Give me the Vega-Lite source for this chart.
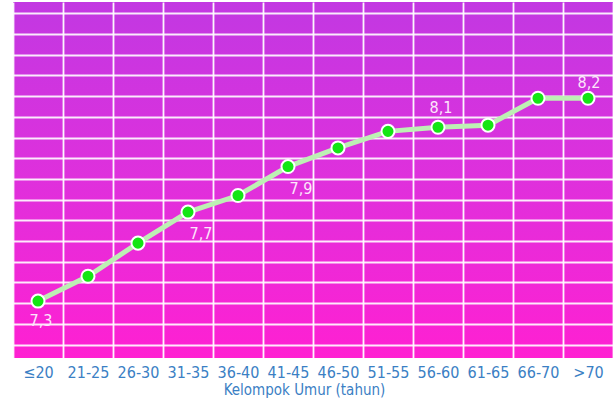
{
  "$schema": "https://vega.github.io/schema/vega-lite/v6.json",
  "width": 600,
  "height": 356,
  "autosize": {"type": "none"},
  "padding": {"left": 13, "top": 2, "right": 2, "bottom": 46},
  "background": "white",
  "config": {
    "view": {
      "stroke": null,
      "fill": {"gradient": "linear", "x1": 0, "y1": 0, "x2": 0, "y2": 1, "stops": [{"offset": 0, "color": "#c238e2"}, {"offset": 0.5, "color": "#df30dc"}, {"offset": 1, "color": "#ff20d2"}]}
    }
  },
  "data": {
    "values": [
      {"umur": "≤20", "nilai": 7.26, "label": "7,3"},
      {"umur": "21-25", "nilai": 7.38, "label": ""},
      {"umur": "26-30", "nilai": 7.54, "label": ""},
      {"umur": "31-35", "nilai": 7.69, "label": "7,7"},
      {"umur": "36-40", "nilai": 7.77, "label": ""},
      {"umur": "41-45", "nilai": 7.91, "label": "7,9"},
      {"umur": "46-50", "nilai": 8.0, "label": ""},
      {"umur": "51-55", "nilai": 8.08, "label": ""},
      {"umur": "56-60", "nilai": 8.1, "label": "8,1"},
      {"umur": "61-65", "nilai": 8.11, "label": ""},
      {"umur": "66-70", "nilai": 8.24, "label": ""},
      {"umur": ">70", "nilai": 8.24, "label": "8,2"}
    ]
  },
  "encoding": {
    "x": {
      "field": "umur", "type": "nominal", "sort": null,
      "scale": {"type": "band", "paddingInner": 0, "paddingOuter": 0},
      "axis": {
        "tickBand": "extent", "grid": true, "gridColor": "#ffffff", "gridWidth": 1.8, "gridOpacity": 0.95,
        "ticks": false, "domain": false, "labelAngle": 0,
        "labelColor": "#3b80c4", "labelFont": "Liberation Sans Narrow, DejaVu Sans Condensed, sans-serif", "labelFontSize": 16, "labelPadding": 6,
        "title": "Kelompok Umur (tahun)", "titleColor": "#3b80c4", "titleFont": "Liberation Sans Narrow, DejaVu Sans Condensed, sans-serif", "titleFontSize": 15, "titleFontWeight": "normal", "titlePadding": 2, "titleX": 291
      }
    },
    "y": {
      "field": "nilai", "type": "quantitative",
      "scale": {"domain": [6.985, 8.705], "nice": false, "zero": false},
      "axis": {
        "values": [7.05, 7.15, 7.25, 7.35, 7.45, 7.55, 7.65, 7.75, 7.85, 7.95, 8.05, 8.15, 8.25, 8.35, 8.45, 8.55, 8.65],
        "labels": false, "ticks": false, "domain": false, "title": null,
        "grid": true, "gridColor": "#ffffff", "gridWidth": 1.8, "gridOpacity": 0.9
      }
    }
  },
  "layer": [
    {"mark": {"type": "line", "color": "#bdf0b4", "strokeWidth": 5}},
    {"mark": {"type": "point", "filled": true, "fill": "#14e614", "stroke": "#ffffff", "strokeWidth": 2, "size": 170, "opacity": 1}},
    {
      "transform": [{"filter": "datum.umur === '≤20'"}],
      "mark": {"type": "text", "dx": 3, "dy": 20, "baseline": "middle", "color": "#fde6fb", "font": "Liberation Sans Narrow, DejaVu Sans Condensed, sans-serif", "fontSize": 16},
      "encoding": {"text": {"field": "label"}}
    },
    {
      "transform": [{"filter": "datum.umur === '31-35' || datum.umur === '41-45'"}],
      "mark": {"type": "text", "dx": 13, "dy": 22, "baseline": "middle", "color": "#fde6fb", "font": "Liberation Sans Narrow, DejaVu Sans Condensed, sans-serif", "fontSize": 16},
      "encoding": {"text": {"field": "label"}}
    },
    {
      "transform": [{"filter": "datum.umur === '56-60'"}],
      "mark": {"type": "text", "dx": 3, "dy": -19, "baseline": "middle", "color": "#fde6fb", "font": "Liberation Sans Narrow, DejaVu Sans Condensed, sans-serif", "fontSize": 16},
      "encoding": {"text": {"field": "label"}}
    },
    {
      "transform": [{"filter": "datum.umur === '>70'"}],
      "mark": {"type": "text", "dx": 1, "dy": -15, "baseline": "middle", "color": "#fde6fb", "font": "Liberation Sans Narrow, DejaVu Sans Condensed, sans-serif", "fontSize": 16},
      "encoding": {"text": {"field": "label"}}
    }
  ]
}
